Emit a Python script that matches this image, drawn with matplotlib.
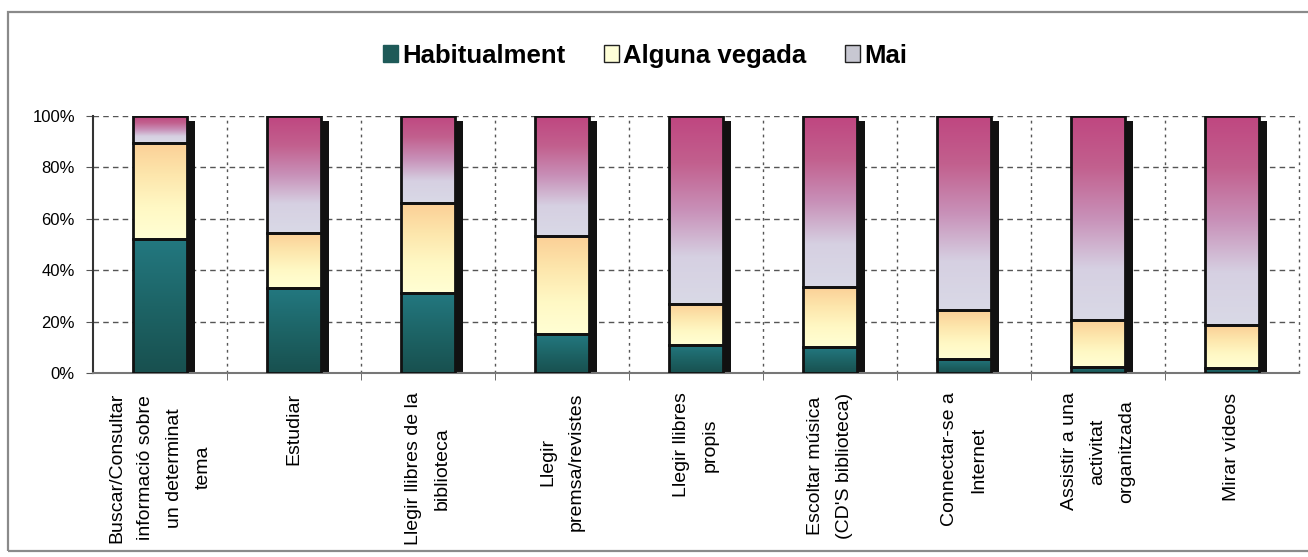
import numpy as np
import matplotlib
matplotlib.use("Agg")
import matplotlib.pyplot as plt
from matplotlib.colors import LinearSegmentedColormap
from matplotlib.patches import Rectangle, Patch

plt.rcParams['font.family'] = ['Liberation Sans', 'DejaVu Sans']

categories = ["Buscar/Consultar\ninformació sobre\nun determinat\ntema",
              "Estudiar",
              "Llegir llibres de la\nbiblioteca",
              "Llegir\npremsa/revistes",
              "Llegir llibres\npropis",
              "Escoltar música\n(CD'S biblioteca)",
              "Connectar-se a\nInternet",
              "Assistir a una\nactivitat\norganitzada",
              "Mirar vídeos"]
habitualment = [52, 33, 31, 15, 11, 10, 5.5, 2.5, 2]
alguna_vegada = [37.5, 21.5, 35, 38.5, 16, 23.5, 19, 18, 16.5]
mai = [100 - h - a for h, a in zip(habitualment, alguna_vegada)]
series_names = ["Habitualment", "Alguna vegada", "Mai"]
yticks = [0, 20, 40, 60, 80, 100]

# gradients: bottom -> top
cm_hab = LinearSegmentedColormap.from_list("hab", ["#18504f", "#1d6466", "#237880"])
cm_alg = LinearSegmentedColormap.from_list("alg", ["#ffffd4", "#fff8c4", "#fde6ac", "#fbcf96"])
cm_mai = LinearSegmentedColormap.from_list("mai", ["#d9d9e6", "#d6d0e2", "#c890b8", "#c2608e", "#bf4680"])
cmaps = [cm_hab, cm_alg, cm_mai]

fig = plt.figure(figsize=(13.08, 5.57), dpi=100)
ax = fig.add_axes([93/1308, 1-373/557, (1299-93)/1308, (373-116)/557])

# outer frame
fig.patches.append(Rectangle((8/1308, 1-551/557), 1.2, (551-12)/557, transform=fig.transFigure,
                             fill=False, edgecolor="#8a8a8a", lw=1.6))

n = len(categories)
x = np.arange(n)
w = 0.40
grad = np.linspace(0, 1, 256).reshape(-1, 1)

for i in range(n):
    vals = [habitualment[i], alguna_vegada[i], mai[i]]
    # shadow
    ax.add_patch(Rectangle((x[i] + w/2, 0), 0.06, 98.2, facecolor="#111111",
                           edgecolor="none", zorder=2))
    bottom = 0
    for v, cm in zip(vals, cmaps):
        ax.imshow(grad, cmap=cm, aspect='auto', origin='lower',
                  extent=[x[i] - w/2, x[i] + w/2, bottom, bottom + v], zorder=3)
        ax.add_patch(Rectangle((x[i] - w/2, bottom), w, v, fill=False,
                               edgecolor="#111111", lw=2, zorder=4))
        bottom += v

ax.set_xlim(-0.5, n - 0.5)
ax.set_ylim(0, 100)

# grid
for yv in yticks[1:]:
    ax.axhline(yv, color="#555555", lw=1, dashes=(4, 3), zorder=1)
for xv in np.arange(0.5, n, 1):
    ax.axvline(xv, color="#555555", lw=1, dashes=(2, 3), zorder=1, clip_on=False)

ax.set_yticks(yticks)
ax.set_yticklabels([f"{v}%" for v in yticks], fontsize=12)
ax.set_xticks(np.arange(0.5, n - 1, 1), minor=True)
ax.set_xticks(x)
ax.set_xticklabels(categories, rotation=90, fontsize=14, va='top', ha='center',
                   multialignment='center', linespacing=1.9)
ax.tick_params(axis='x', which='major', length=0, pad=14)
ax.tick_params(axis='x', which='minor', length=5, color="#555555")
ax.tick_params(axis='y', length=5, color="#555555", pad=8)

for s in ['top', 'right']:
    ax.spines[s].set_visible(False)
ax.spines['left'].set_color("#333333")
ax.spines['left'].set_linewidth(1.5)
ax.spines['bottom'].set_color("#777777")
ax.spines['bottom'].set_linewidth(1.5)

handles = [Patch(facecolor="#1e5a58", edgecolor="#1e5a58"),
           Patch(facecolor="#ffffd8", edgecolor="#222222"),
           Patch(facecolor="#c8c8d2", edgecolor="#222222")]
fig.legend(handles, series_names, loc='center', bbox_to_anchor=(0.493, 0.90), ncol=3,
           frameon=False, prop={'weight': 'bold', 'size': 18.5},
           handlelength=0.6, handleheight=0.6, handletextpad=0.15, columnspacing=1.5)

fig.savefig("out.png", dpi=100)
